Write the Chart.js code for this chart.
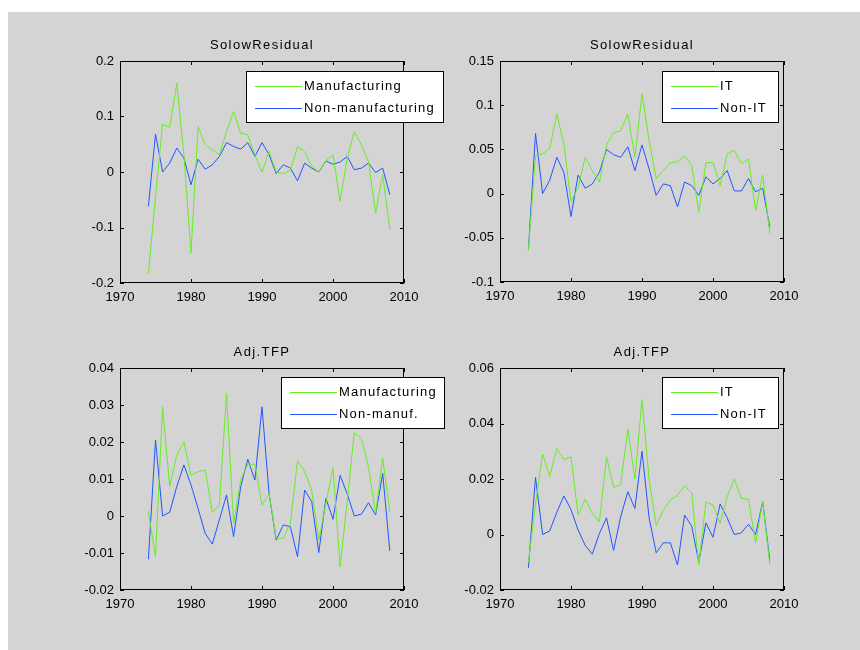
<!DOCTYPE html>
<html>
<head>
<meta charset="utf-8">
<script src="https://cdn.jsdelivr.net/npm/chart.js@4.4.0/dist/chart.umd.min.js"></script>
<style>
  body { margin: 0; background: #fff; }
  #fig { position: absolute; left: 8px; top: 12px; width: 852px; height: 638px; background: #d4d4d4; }
  canvas { position: absolute; }
</style>
</head>
<body>
<div id="fig"></div>
<canvas id="c1"></canvas>
<canvas id="c2"></canvas>
<canvas id="c3"></canvas>
<canvas id="c4"></canvas>
<script>
// --- data ---
const years = [1974, 1975, 1976, 1977, 1978, 1979, 1980, 1981, 1982, 1983, 1984, 1985,
  1986, 1987, 1988, 1989, 1990, 1991, 1992, 1993, 1994, 1995, 1996, 1997, 1998, 1999,
  2000, 2001, 2002, 2003, 2004, 2005, 2006, 2007, 2008];

// Solow residual
const mfgSolow = [-0.183, -0.045, 0.086, 0.080, 0.160, 0.030, -0.146, 0.082, 0.049, 0.040, 0.031, 0.073,
  0.109, 0.070, 0.067, 0.031, 0.000, 0.037, 0.000, -0.003, 0.003, 0.046, 0.037, 0.010, 0.000, 0.020,
  0.031, -0.053, 0.025, 0.073, 0.049, 0.019, -0.074, -0.005, -0.104];
const nonMfgSolow = [-0.062, 0.068, 0.000, 0.016, 0.043, 0.025, -0.023, 0.023, 0.005, 0.013, 0.028, 0.053,
  0.046, 0.041, 0.053, 0.028, 0.053, 0.031, -0.003, 0.013, 0.007, -0.016, 0.016, 0.007, 0.000, 0.020,
  0.014, 0.018, 0.028, 0.004, 0.007, 0.016, -0.001, 0.007, -0.041];
const itSolow = [-0.064, 0.043, 0.045, 0.051, 0.090, 0.056, -0.009, 0.007, 0.041, 0.026, 0.013, 0.055,
  0.069, 0.071, 0.090, 0.041, 0.113, 0.060, 0.017, 0.026, 0.035, 0.036, 0.043, 0.032, -0.021, 0.035,
  0.035, 0.009, 0.045, 0.049, 0.034, 0.039, -0.019, 0.021, -0.045];
const nonItSolow = [-0.064, 0.068, 0.000, 0.015, 0.041, 0.024, -0.026, 0.021, 0.006, 0.011, 0.024, 0.050,
  0.044, 0.041, 0.053, 0.026, 0.055, 0.028, -0.002, 0.011, 0.009, -0.015, 0.013, 0.009, -0.002, 0.019,
  0.011, 0.017, 0.026, 0.003, 0.003, 0.017, 0.002, 0.006, -0.038];

// Adjusted TFP
const mfgTfp = [0.0012, -0.011, 0.0295, 0.008, 0.0165, 0.020, 0.011, 0.012, 0.0124, 0.001, 0.003, 0.033,
  -0.002, 0.0097, 0.014, 0.014, 0.003, 0.006, -0.006, -0.006, -0.002, 0.015, 0.012, 0.007, -0.0065, 0.0034,
  0.013, -0.0137, 0.004, 0.0225, 0.021, 0.0133, 0.0007, 0.0156, 0.0012];
const nonMfgTfp = [-0.0117, 0.0205, 0.000, 0.001, 0.008, 0.0138, 0.0084, 0.002, -0.0047, -0.0076, -0.001, 0.0057,
  -0.0056, 0.0079, 0.0153, 0.0097, 0.0295, 0.006, -0.0065, -0.0024, -0.0029, -0.011, 0.007, 0.0039, -0.0099, 0.0048,
  -0.0009, 0.011, 0.006, 0.000, 0.0005, 0.0036, 0.0003, 0.0115, -0.0094];
const itTfp = [-0.010, 0.011, 0.029, 0.021, 0.031, 0.027, 0.028, 0.007, 0.0127, 0.0076, 0.0046, 0.028,
  0.017, 0.018, 0.038, 0.020, 0.0486, 0.020, 0.0034, 0.0088, 0.0124, 0.0142, 0.0175, 0.015, -0.011, 0.0118,
  0.0106, 0.004, 0.0136, 0.020, 0.013, 0.0127, -0.003, 0.0118, -0.0107];
const nonItTfp = [-0.012, 0.0206, 0.000, 0.0013, 0.008, 0.0139, 0.009, 0.0016, -0.0039, -0.0071, 0.0004, 0.006,
  -0.0057, 0.0064, 0.0154, 0.0094, 0.030, 0.006, -0.0066, -0.003, -0.003, -0.011, 0.007, 0.003, -0.0099, 0.0042,
  -0.001, 0.011, 0.006, 0.000, 0.0006, 0.0037, 0.000, 0.0118, -0.0093];

// tick labels
const xTicks = [1970, 1980, 1990, 2000, 2010];
const yTicks1 = [-0.2, -0.1, 0, 0.1, 0.2];
const yTicks2 = [-0.1, -0.05, 0, 0.05, 0.1, 0.15];
const yTicks3 = [-0.02, -0.01, 0, 0.01, 0.02, 0.03, 0.04];
const yTicks4 = [-0.02, 0, 0.02, 0.04, 0.06];

const GREEN = 'rgb(102,238,34)';
const BLUE = 'rgb(34,85,255)';
const FONT = '13px "Liberation Sans", Arial, sans-serif';

Chart.defaults.font.family = '"Liberation Sans", Arial, sans-serif';
Chart.defaults.font.size = 13;
Chart.defaults.color = '#000';

// draws the MATLAB-ish box, inward ticks, title and legend
const matlabAxes = {
    id: 'matlabAxes',
    afterDraw(chart, args, opts) {
        const ctx = chart.ctx;
        const a = chart.chartArea;
        const xs = chart.scales.x, ys = chart.scales.y;
        const L = Math.round(a.left), T = Math.round(a.top), R = Math.round(a.right), B = Math.round(a.bottom);
        ctx.save();
        ctx.strokeStyle = '#000';
        ctx.lineWidth = 1;
        ctx.strokeRect(L + 0.5, T + 0.5, R - L - 1, B - T - 1);

        ctx.beginPath();
        xs.ticks.forEach(t => {
            const px = Math.round(xs.getPixelForValue(t.value)) + 0.5;
            ctx.moveTo(px, B); ctx.lineTo(px, B - 4);
            ctx.moveTo(px, T); ctx.lineTo(px, T + 4);
        });
        ys.ticks.forEach(t => {
            const py = Math.round(ys.getPixelForValue(t.value)) + 0.5;
            ctx.moveTo(L, py); ctx.lineTo(L + 4, py);
            ctx.moveTo(R, py); ctx.lineTo(R - 4, py);
        });
        ctx.stroke();

        ctx.fillStyle = '#000';
        ctx.font = FONT;
        ctx.letterSpacing = '1.4px';
        ctx.textAlign = 'center';
        ctx.textBaseline = 'middle';
        ctx.fillText(opts.title, (L + R) / 2, T - 16);

        // legend box
        const lx = L + opts.legend.dx, ly = T + opts.legend.dy;
        ctx.fillStyle = '#fff';
        ctx.fillRect(lx, ly, opts.legend.w, 51);
        ctx.strokeRect(lx + 0.5, ly + 0.5, opts.legend.w - 1, 51);
        ctx.textAlign = 'left';
        ctx.letterSpacing = '1.2px';
        chart.data.datasets.forEach((ds, i) => {
            const ry = ly + 15 + i * 22 + 0.5;
            ctx.strokeStyle = ds.borderColor;
            ctx.beginPath();
            ctx.moveTo(lx + 9, ry); ctx.lineTo(lx + 56, ry);
            ctx.stroke();
            ctx.fillStyle = '#000';
            ctx.fillText(ds.label, lx + 58, ry);
        });
        ctx.restore();
    }
};

function makePanel(id, area, title, yTicks, series, legend) {
    const canvas = document.getElementById(id);
    const w = area.r - area.l + 140, h = area.b - area.t + 70;
    canvas.width = w; canvas.height = h;
    canvas.style.left = (area.l - 80) + 'px';
    canvas.style.top = (area.t - 40) + 'px';

    new Chart(canvas.getContext('2d'), {
        type: 'line',
        data: {
            datasets: series.map(s => ({
                label: s.label,
                data: years.map((yr, i) => ({ x: yr, y: s.values[i] })),
                borderColor: s.color,
                borderWidth: 1,
                pointRadius: 0,
                tension: 0,
                fill: false
            }))
        },
        options: {
            responsive: false,
            animation: false,
            layout: { padding: { left: 30, top: 40, right: 60, bottom: 5 } },
            plugins: {
                legend: { display: false },
                tooltip: { enabled: false },
                matlabAxes: { title: title, legend: legend }
            },
            scales: {
                x: {
                    type: 'linear',
                    min: xTicks[0],
                    max: xTicks[xTicks.length - 1],
                    afterBuildTicks: s => { s.ticks = xTicks.map(v => ({ value: v })); },
                    afterFit: s => { s.height = 25; },
                    grid: { display: false, drawTicks: false },
                    border: { display: false },
                    ticks: { padding: 7, maxRotation: 0, callback: v => String(v) }
                },
                y: {
                    min: yTicks[0],
                    max: yTicks[yTicks.length - 1],
                    afterBuildTicks: s => { s.ticks = yTicks.map(v => ({ value: v })); },
                    afterFit: s => { s.width = 50; },
                    grid: { display: false, drawTicks: false },
                    border: { display: false },
                    ticks: { padding: 6, callback: v => String(v) }
                }
            }
        },
        plugins: [matlabAxes]
    });
}

makePanel('c1', { l: 120, t: 61, r: 404, b: 283 }, 'SolowResidual', yTicks1, [
    { label: 'Manufacturing', values: mfgSolow, color: GREEN },
    { label: 'Non-manufacturing', values: nonMfgSolow, color: BLUE }
], { dx: 126, dy: 10, w: 198 });

makePanel('c2', { l: 500, t: 61, r: 784, b: 282 }, 'SolowResidual', yTicks2, [
    { label: 'IT', values: itSolow, color: GREEN },
    { label: 'Non-IT', values: nonItSolow, color: BLUE }
], { dx: 162, dy: 10, w: 117 });

makePanel('c3', { l: 120, t: 368, r: 404, b: 590 }, 'Adj.TFP', yTicks3, [
    { label: 'Manufacturing', values: mfgTfp, color: GREEN },
    { label: 'Non-manuf.', values: nonMfgTfp, color: BLUE }
], { dx: 161, dy: 9, w: 164 });

makePanel('c4', { l: 500, t: 368, r: 784, b: 590 }, 'Adj.TFP', yTicks4, [
    { label: 'IT', values: itTfp, color: GREEN },
    { label: 'Non-IT', values: nonItTfp, color: BLUE }
], { dx: 162, dy: 9, w: 117 });
</script>
</body>
</html>
